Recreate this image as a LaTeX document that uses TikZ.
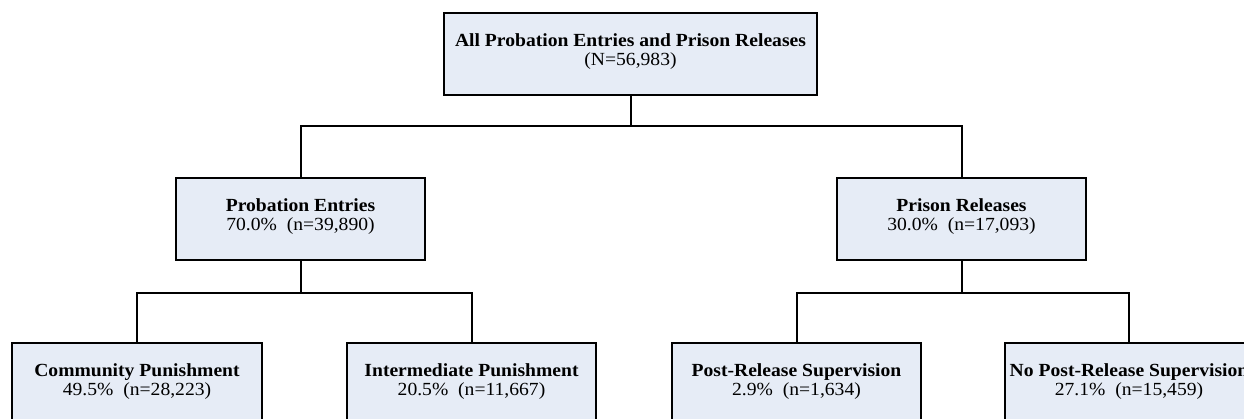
\documentclass[tikz,border=0pt]{standalone}
\usepackage{fontspec}
\setmainfont{Liberation Serif}[FakeStretch=1.06]
\usetikzlibrary{calc}
\definecolor{boxfill}{RGB}{230,236,246}
\tikzset{
  box/.style={draw=black, fill=boxfill, line width=2bp, rectangle, inner sep=0pt,
    minimum width=249bp, minimum height=82bp, anchor=north},
  txt/.style={anchor=base, inner sep=0pt, font=\fontsize{18.5bp}{19bp}\selectfont},
  conn/.style={draw=black, line width=2bp}
}
\newcommand\mybox[6][249bp]{%
  \node[box, minimum width=#1] (#2) at (#3,#4) {};
  \node[txt] (#2-a) at ($(#2.north)+(0,34)$) {\bfseries #5};
  \node[txt] (#2-b) at ($(#2.north)+(0,53)$) {#6};
}
\begin{document}
\begin{tikzpicture}[x=1bp,y=-1bp]
\useasboundingbox (0,0) rectangle (1244,418);
\clip (0,0) rectangle (1244,418);
\mybox[373bp]{top}{630.5}{12}{All Probation Entries and Prison Releases}{(N=56,983)}
\mybox{prob}{300.5}{177}{Probation Entries}{70.0\%\ \ (n=39,890)}
\mybox{pris}{961.5}{177}{Prison Releases}{30.0\%\ \ (n=17,093)}
\mybox{comm}{137}{342}{Community Punishment}{49.5\%\ \ (n=28,223)}
\mybox{inter}{471.5}{342}{Intermediate Punishment}{20.5\%\ \ (n=11,667)}
\mybox{post}{796.5}{342}{Post-Release Supervision}{2.9\%\ \ (n=1,634)}
\mybox{nopost}{1129}{342}{No Post-Release Supervision}{27.1\%\ \ (n=15,459)}
\draw[conn] (top.south) -- ++(0,30) -| (prob.north);
\draw[conn] (top.south) -- ++(0,30) -| (pris.north);
\draw[conn] (prob.south) -- ++(0,32) -| (comm.north);
\draw[conn] (prob.south) -- ++(0,32) -| (inter.north);
\draw[conn] (pris.south) -- ++(0,32) -| (post.north);
\draw[conn] (pris.south) -- ++(0,32) -| (nopost.north);
\end{tikzpicture}
\end{document}
